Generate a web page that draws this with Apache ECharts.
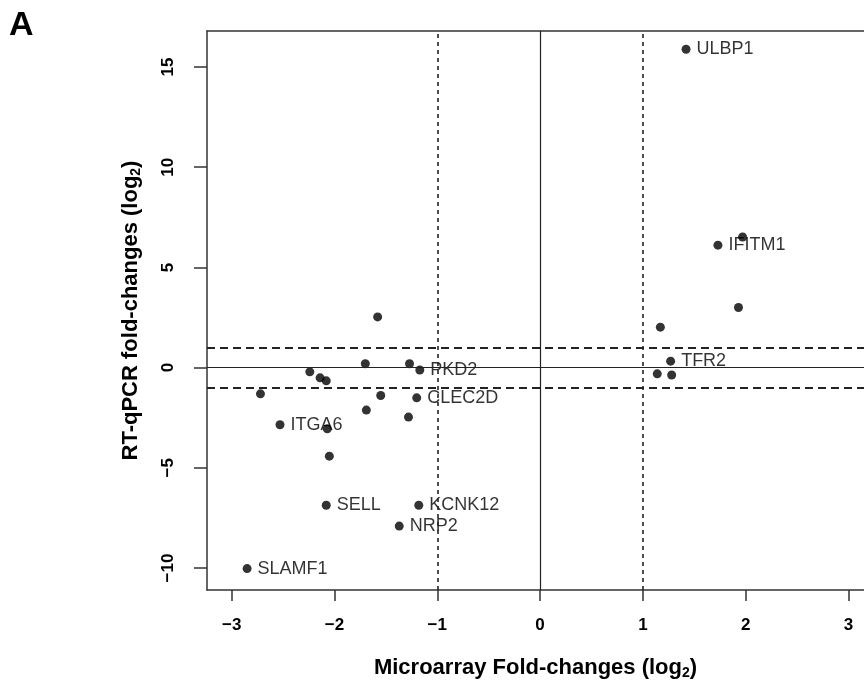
<!DOCTYPE html>
<html>
<head>
<meta charset="utf-8">
<script src="https://cdn.jsdelivr.net/npm/echarts@6/dist/echarts.min.js"></script>
<style>
  html, body { margin: 0; padding: 0; background: #fff; }
  #main { width: 864px; height: 685px; }
</style>
</head>
<body>
<div id="main"></div>
<script>
// 基因名称（空字符串表示不标注）
var genes = ["ULBP1", "IFITM1", "", "", "", "TFR2", "", "",
  "", "", "", "PKD2", "", "", "", "", "", "CLEC2D", "", "",
  "ITGA6", "", "", "SELL", "KCNK12", "NRP2", "SLAMF1"];
// 芯片 fold-change (log2)
var microarray = [1.42, 1.73, 1.97, 1.93, 1.17, 1.27, 1.14, 1.28,
  -1.58, -1.70, -1.27, -1.17, -2.24, -2.14, -2.08, -2.72, -1.55, -1.20, -1.69, -1.28,
  -2.53, -2.07, -2.05, -2.08, -1.18, -1.37, -2.85];
// RT-qPCR fold-change (log2)
var qpcr = [15.89, 6.11, 6.52, 3.00, 2.02, 0.32, -0.31, -0.37,
  2.53, 0.19, 0.19, -0.12, -0.21, -0.51, -0.66, -1.31, -1.39, -1.51, -2.12, -2.47,
  -2.85, -3.05, -4.42, -6.87, -6.87, -7.91, -10.03];
var xTicks = [-3, -2, -1, 0, 1, 2, 3];
var yTicks = [-10, -5, 0, 5, 10, 15];

(function () {
  var myChart = echarts.init(document.getElementById("main"));
  var font = "Liberation Sans";
  var points = [];
  for (var i = 0; i < genes.length; i++) {
    points.push([microarray[i], qpcr[i], genes[i]]);
  }
  var minus = function (v) { return v < 0 ? "\u2212" + (-v) : String(v); };
  var nameRich = {
    a: { fontSize: 22, fontWeight: "bold", color: "#000", fontFamily: font },
    s: { fontSize: 14, fontWeight: "bold", color: "#000", fontFamily: font, padding: [11, 0, 0, 0] }
  };
  var vDash = { color: "#222", type: [4, 4], width: 1.6 };
  var hDash = { color: "#222", type: [8, 5], width: 2 };
  var solid = { color: "#222", type: "solid", width: 1.2 };
  var option = {
    animation: false,
    textStyle: { fontFamily: font },
    graphic: [{
      type: "text",
      left: 9,
      top: 9,
      style: { text: "A", font: "bold 34px " + font, fill: "#000" }
    }],
    // 右边框在图外，只画左、下、上三条线
    grid: {
      left: 207,
      top: 31,
      right: 0,
      bottom: 94,
      show: false
    },
    xAxis: [{
      type: "value",
      min: -3.24,
      max: 3.151,
      splitLine: { show: false },
      axisLine: { onZero: false, lineStyle: { color: "#333", width: 1.5 } },
      axisTick: { length: 11, lineStyle: { color: "#333", width: 1.5 }, customValues: xTicks },
      axisLabel: {
        customValues: xTicks,
        margin: 27,
        fontSize: 17,
        fontWeight: "bold",
        color: "#000",
        formatter: minus
      },
      name: "{a|Microarray Fold-changes (log}{s|2}{a|)}",
      nameLocation: "middle",
      nameGap: 65,
      nameTextStyle: { rich: nameRich }
    }, {
      type: "value",
      position: "top",
      min: -3.24,
      max: 3.151,
      splitLine: { show: false },
      axisLine: { onZero: false, lineStyle: { color: "#333", width: 1.5 } },
      axisTick: { show: false },
      axisLabel: { show: false }
    }],
    yAxis: {
      type: "value",
      min: -11.1,
      max: 16.8,
      splitLine: { show: false },
      axisLine: { onZero: false, lineStyle: { color: "#333", width: 1.5 } },
      axisTick: { length: 13, lineStyle: { color: "#333", width: 1.5 }, customValues: yTicks },
      axisLabel: {
        customValues: yTicks,
        rotate: 90,
        margin: 30,
        fontSize: 17,
        fontWeight: "bold",
        color: "#000",
        formatter: minus
      },
      name: "{a|RT-qPCR fold-changes (log}{s|2}{a|)}",
      nameLocation: "middle",
      nameRotate: 90,
      nameGap: 64,
      nameTextStyle: { rich: nameRich }
    },
    series: [{
      type: "scatter",
      symbolSize: 9,
      itemStyle: { color: "#000" },
      data: points,
      label: {
        show: true,
        position: "right",
        distance: 6,
        fontSize: 18,
        color: "#000",
        formatter: function (p) { return p.data[2]; }
      },
      markLine: {
        silent: true,
        symbol: "none",
        label: { show: false },
        data: [
          { xAxis: -1, lineStyle: vDash }, { xAxis: 1, lineStyle: vDash },
          { yAxis: 1, lineStyle: hDash }, { yAxis: -1, lineStyle: hDash },
          { xAxis: 0, lineStyle: solid }, { yAxis: 0, lineStyle: solid }
        ]
      }
    }]
  };
  myChart.setOption(option);
  window.addEventListener("resize", function () {
    myChart.resize();
  });
})();
</script>
</body>
</html>
